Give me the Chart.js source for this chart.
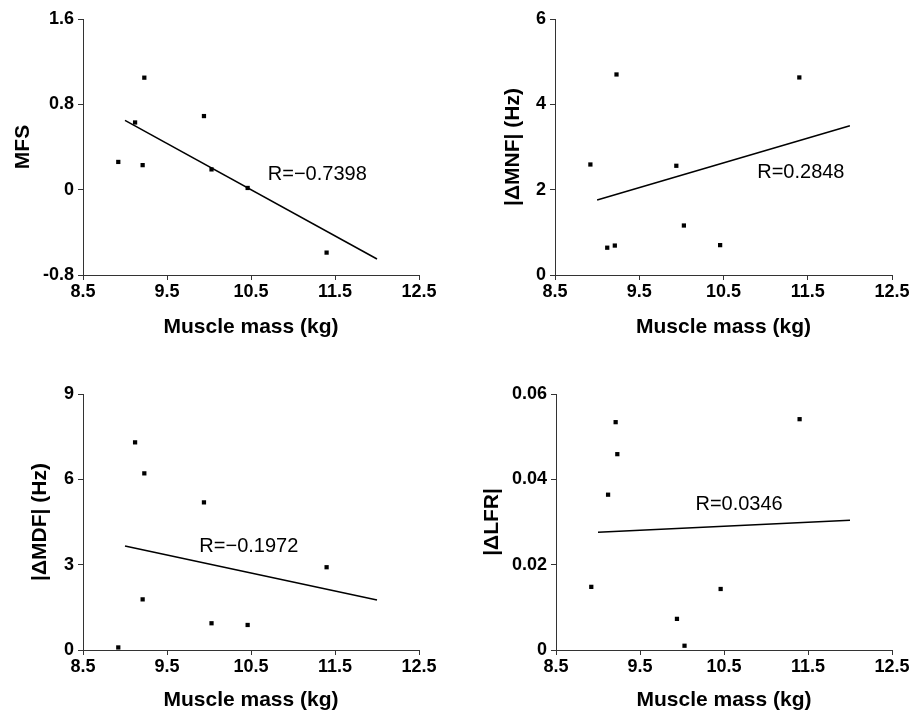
<!DOCTYPE html>
<html>
<head>
<meta charset="utf-8">
<script src="https://cdn.jsdelivr.net/npm/chart.js@4"></script>
<style>
  body { margin: 0; background: #fff; }
  .panel { position: absolute; }
  canvas { display: block; }
</style>
</head>
<body>
<div class="panel" style="left:0;top:0"><canvas id="mfsChart" width="456" height="340"></canvas></div>
<div class="panel" style="left:455px;top:0"><canvas id="mnfChart" width="458" height="340"></canvas></div>
<div class="panel" style="left:0;top:340px"><canvas id="mdfChart" width="456" height="373"></canvas></div>
<div class="panel" style="left:455px;top:340px"><canvas id="lfrChart" width="458" height="373"></canvas></div>
<script>
// muscle mass of each subject (x for every panel)
const massKg = [8.92, 9.12, 9.21, 9.23, 9.94, 10.03, 10.46, 11.40];
const massTicks = [8.5, 9.5, 10.5, 11.5, 12.5];
const massTickLabels = ['8.5', '9.5', '10.5', '11.5', '12.5'];

// per-panel y values, same subject order as massKg
const mfsValues = [0.26, 0.63, 0.23, 1.05, 0.69, 0.19, 0.016, -0.59];
const mnfValues = [2.59, 0.64, 0.69, 4.70, 2.56, 1.16, 0.70, 4.63];
const mdfValues = [0.09, 7.30, 1.78, 6.21, 5.19, 0.94, 0.88, 2.91];
const lfrValues = [0.0148, 0.0364, 0.0534, 0.0459, 0.0073, 0.0010, 0.0143, 0.0541];

// regression line end points
const fitX = [9.0, 12.0];
const mfsFit = [0.65, -0.65];
const mnfFit = [1.76, 3.50];
const mdfFit = [3.66, 1.76];
const lfrFit = [0.0276, 0.0304];

// y tick values / labels
const mfsTicks = [-0.8, 0, 0.8, 1.6];
const mfsTickLabels = ['-0.8', '0', '0.8', '1.6'];
const mnfTicks = [0, 2, 4, 6];
const mnfTickLabels = ['0', '2', '4', '6'];
const mdfTicks = [0, 3, 6, 9];
const mdfTickLabels = ['0', '3', '6', '9'];
const lfrTicks = [0, 0.02, 0.04, 0.06];
const lfrTickLabels = ['0', '0.02', '0.04', '0.06'];

const FONT = "'Liberation Sans', Arial, sans-serif";
const axisColor = '#333';

// draws the correlation text at a data position
const rLabelPlugin = {
    id: 'rLabel',
    afterDatasetsDraw(chart, args, opts) {
        const ctx = chart.ctx;
        const x = chart.scales.x.getPixelForValue(opts.x);
        const y = chart.scales.y.getPixelForValue(opts.y);
        ctx.save();
        ctx.font = '20px ' + FONT;
        ctx.fillStyle = '#000';
        ctx.textAlign = 'left';
        ctx.textBaseline = 'middle';
        ctx.fillText(opts.text, x, y);
        ctx.restore();
    }
};

function makePanel(id, p) {
    const ctx = document.getElementById(id).getContext('2d');
    return new Chart(ctx, {
        type: 'scatter',
        data: {
            datasets: [{
                data: massKg.map((x, i) => ({ x: x, y: p.values[i] })),
                backgroundColor: '#000',
                borderWidth: 0,
                pointStyle: 'rect',
                pointRadius: 3
            }, {
                data: fitX.map((x, i) => ({ x: x, y: p.fit[i] })),
                showLine: true,
                borderColor: '#000',
                borderWidth: 1.5,
                pointRadius: 0,
                fill: false
            }]
        },
        options: {
            responsive: false,
            animation: false,
            layout: { padding: p.padding },
            plugins: {
                legend: { display: false },
                tooltip: { enabled: false },
                rLabel: p.label
            },
            scales: {
                x: {
                    type: 'linear',
                    min: 8.5,
                    max: 12.5,
                    afterBuildTicks: s => { s.ticks = massTicks.map(v => ({ value: v })); },
                    afterFit: s => { s.height = p.xHeight; },
                    ticks: {
                        color: '#000',
                        padding: 1,
                        maxRotation: 0,
                        font: { family: FONT, size: 18, weight: 'bold' },
                        callback: (v, i) => massTickLabels[i]
                    },
                    grid: { drawOnChartArea: false, tickLength: 5, color: axisColor },
                    border: { color: axisColor, width: 1 },
                    title: {
                        display: true,
                        text: 'Muscle mass (kg)',
                        color: '#000',
                        font: { family: FONT, size: 21, weight: 'bold' },
                        padding: { top: 0, bottom: 0 }
                    }
                },
                y: {
                    type: 'linear',
                    min: p.yTicks[0],
                    max: p.yTicks[p.yTicks.length - 1],
                    afterBuildTicks: s => { s.ticks = p.yTicks.map(v => ({ value: v })); },
                    afterFit: s => { s.width = p.yWidth; },
                    ticks: {
                        color: '#000',
                        padding: 4,
                        font: { family: FONT, size: 18, weight: 'bold' },
                        callback: (v, i) => p.yTickLabels[i]
                    },
                    grid: { drawOnChartArea: false, tickLength: 5, color: axisColor },
                    border: { color: axisColor, width: 1 },
                    title: {
                        display: true,
                        text: p.yTitle,
                        color: '#000',
                        font: { family: FONT, size: 21, weight: 'bold' },
                        padding: { top: p.yTitlePad, bottom: 0 }
                    }
                }
            }
        },
        plugins: [rLabelPlugin]
    });
}

makePanel('mfsChart', {
    values: mfsValues, fit: mfsFit, yTicks: mfsTicks, yTickLabels: mfsTickLabels,
    yTitle: 'MFS', yTitlePad: 11, yWidth: 83, xHeight: 65,
    padding: { left: 0, top: 19, right: 37, bottom: 0 },
    label: { text: 'R=\u22120.7398', x: 10.70, y: 0.14 }
});
makePanel('mnfChart', {
    values: mnfValues, fit: mnfFit, yTicks: mnfTicks, yTickLabels: mnfTickLabels,
    yTitle: '|\u0394MNF| (Hz)', yTitlePad: 46, yWidth: 100, xHeight: 65,
    padding: { left: 0, top: 19, right: 21, bottom: 0 },
    label: { text: 'R=0.2848', x: 10.90, y: 2.41 }
});
makePanel('mdfChart', {
    values: mdfValues, fit: mdfFit, yTicks: mdfTicks, yTickLabels: mdfTickLabels,
    yTitle: '|\u0394MDF| (Hz)', yTitlePad: 28, yWidth: 83, xHeight: 63,
    padding: { left: 0, top: 54, right: 37, bottom: 0 },
    label: { text: 'R=\u22120.1972', x: 9.885, y: 3.63 }
});
makePanel('lfrChart', {
    values: lfrValues, fit: lfrFit, yTicks: lfrTicks, yTickLabels: lfrTickLabels,
    yTitle: '|\u0394LFR|', yTitlePad: 25, yWidth: 101, xHeight: 63,
    padding: { left: 0, top: 54, right: 21, bottom: 0 },
    label: { text: 'R=0.0346', x: 10.16, y: 0.0342 }
});
</script>
</body>
</html>
